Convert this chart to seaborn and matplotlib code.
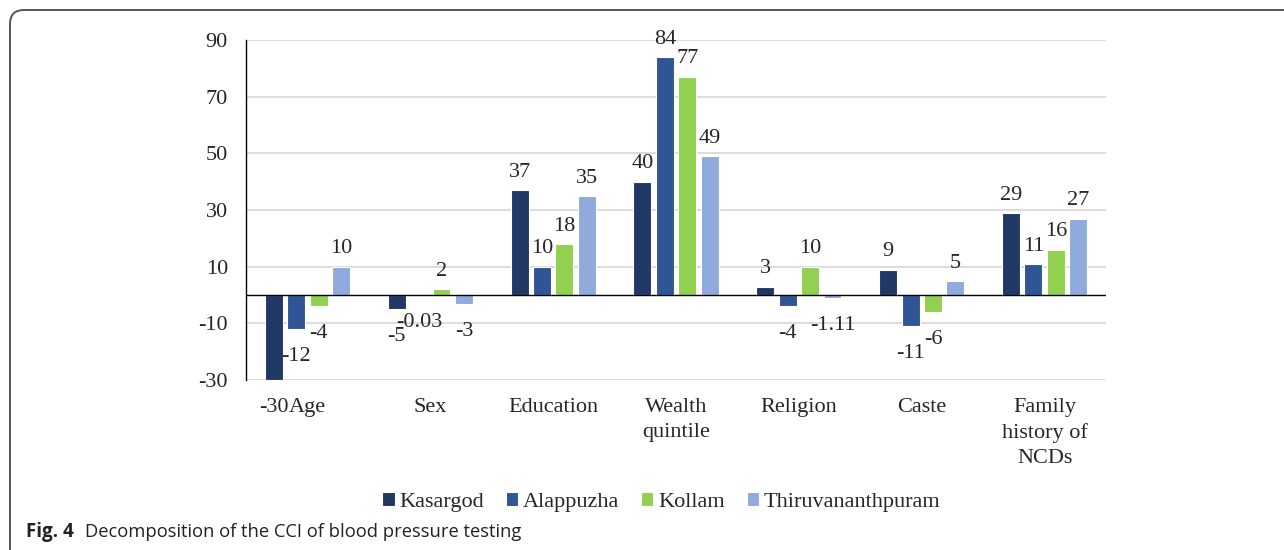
import pandas as pd
import matplotlib.pyplot as plt
import seaborn as sns
from matplotlib.patches import FancyBboxPatch
from matplotlib.transforms import IdentityTransform

factors = ['Age', 'Sex', 'Education', 'Wealth\nquintile', 'Religion', 'Caste',
           'Family\nhistory of\nNCDs']
districts = ['Kasargod', 'Alappuzha', 'Kollam', 'Thiruvananthpuram']
kasargod = [-30, -5, 37, 40, 3, 9, 29]
alappuzha = [-12, -0.03, 10, 84, -4, -11, 11]
kollam = [-4, 2, 18, 77, 10, -6, 16]
thiruvananthpuram = [10, -3, 35, 49, -1.11, 5, 27]
yticks = [-30, -10, 10, 30, 50, 70, 90]
colors = ['#203864', '#2F5597', '#92D050', '#8FAADC']

rows = []
for name, vals in zip(districts, [kasargod, alappuzha, kollam, thiruvananthpuram]):
    for f, v in zip(factors, vals):
        rows.append({'Factor': f, 'District': name, 'Value': v})
df = pd.DataFrame(rows)

sns.set_style('white')
plt.rcParams['font.family'] = ['Liberation Serif', 'DejaVu Serif']
plt.rcParams['axes.unicode_minus'] = False

fig = plt.figure(figsize=(12.84, 5.5), dpi=100)
ax = fig.add_axes([0.1916, 0.309, 0.6698, 0.6183])

sns.barplot(data=df, x='Factor', y='Value', hue='District', order=factors,
            hue_order=districts, palette=colors, saturation=1, width=0.73, gap=0.2,
            edgecolor='white', linewidth=0.8, errorbar=None, ax=ax)

# positive labels sit above the bar, negative ones a bit further below
for cont in ax.containers:
    vals = cont.datavalues
    ax.bar_label(cont, labels=[f'{v:g}' if v >= 0 else '' for v in vals],
                 padding=6, fontsize=16)
    ax.bar_label(cont, labels=[f'{v:g}' if v < 0 else '' for v in vals],
                 padding=13, fontsize=16)

ax.set_ylim(-30, 90)
ax.set_xlim(-0.5, 6.5)
ax.set_yticks(yticks)
ax.yaxis.grid(True, color='#D9D9D9', lw=1.3)
ax.set_axisbelow(True)
ax.axhline(0, color='black', lw=1)
for s in ['top', 'right', 'bottom']:
    ax.spines[s].set_visible(False)
ax.spines['left'].set_color('black')
ax.spines['left'].set_linewidth(1)
ax.tick_params(axis='y', length=0, pad=13, labelsize=16)
ax.tick_params(axis='x', length=0, pad=13, labelsize=16)
for t in ax.get_xticklabels():
    t.set_linespacing(1.42)
ax.set_xlabel('')
ax.set_ylabel('')

handles, labels = ax.get_legend_handles_labels()
ax.get_legend().remove()
fig.legend(handles, labels, loc='center', bbox_to_anchor=(0.515, 0.087), ncol=4,
           frameon=False, fontsize=16, handlelength=0.55, handleheight=0.55,
           handletextpad=0.2, columnspacing=1.0)

# rounded frame around the figure panel
frame = FancyBboxPatch((10, -60), 1400, 600, boxstyle='round,pad=0,rounding_size=14',
                       transform=IdentityTransform(), fill=False,
                       edgecolor='#555555', lw=1.4)
fig.patches.append(frame)

fig.text(26 / 1284, 1 - 532 / 550, 'Fig. 4', fontsize=13.5, fontweight='bold',
         family=['Open Sans', 'DejaVu Sans'], va='center', color='#222222')
fig.text(85 / 1284, 1 - 532 / 550, 'Decomposition of the CCI of blood pressure testing',
         fontsize=13.2, family=['Open Sans', 'DejaVu Sans'], va='center', color='#222222')

fig.savefig('out.png', dpi=100)
